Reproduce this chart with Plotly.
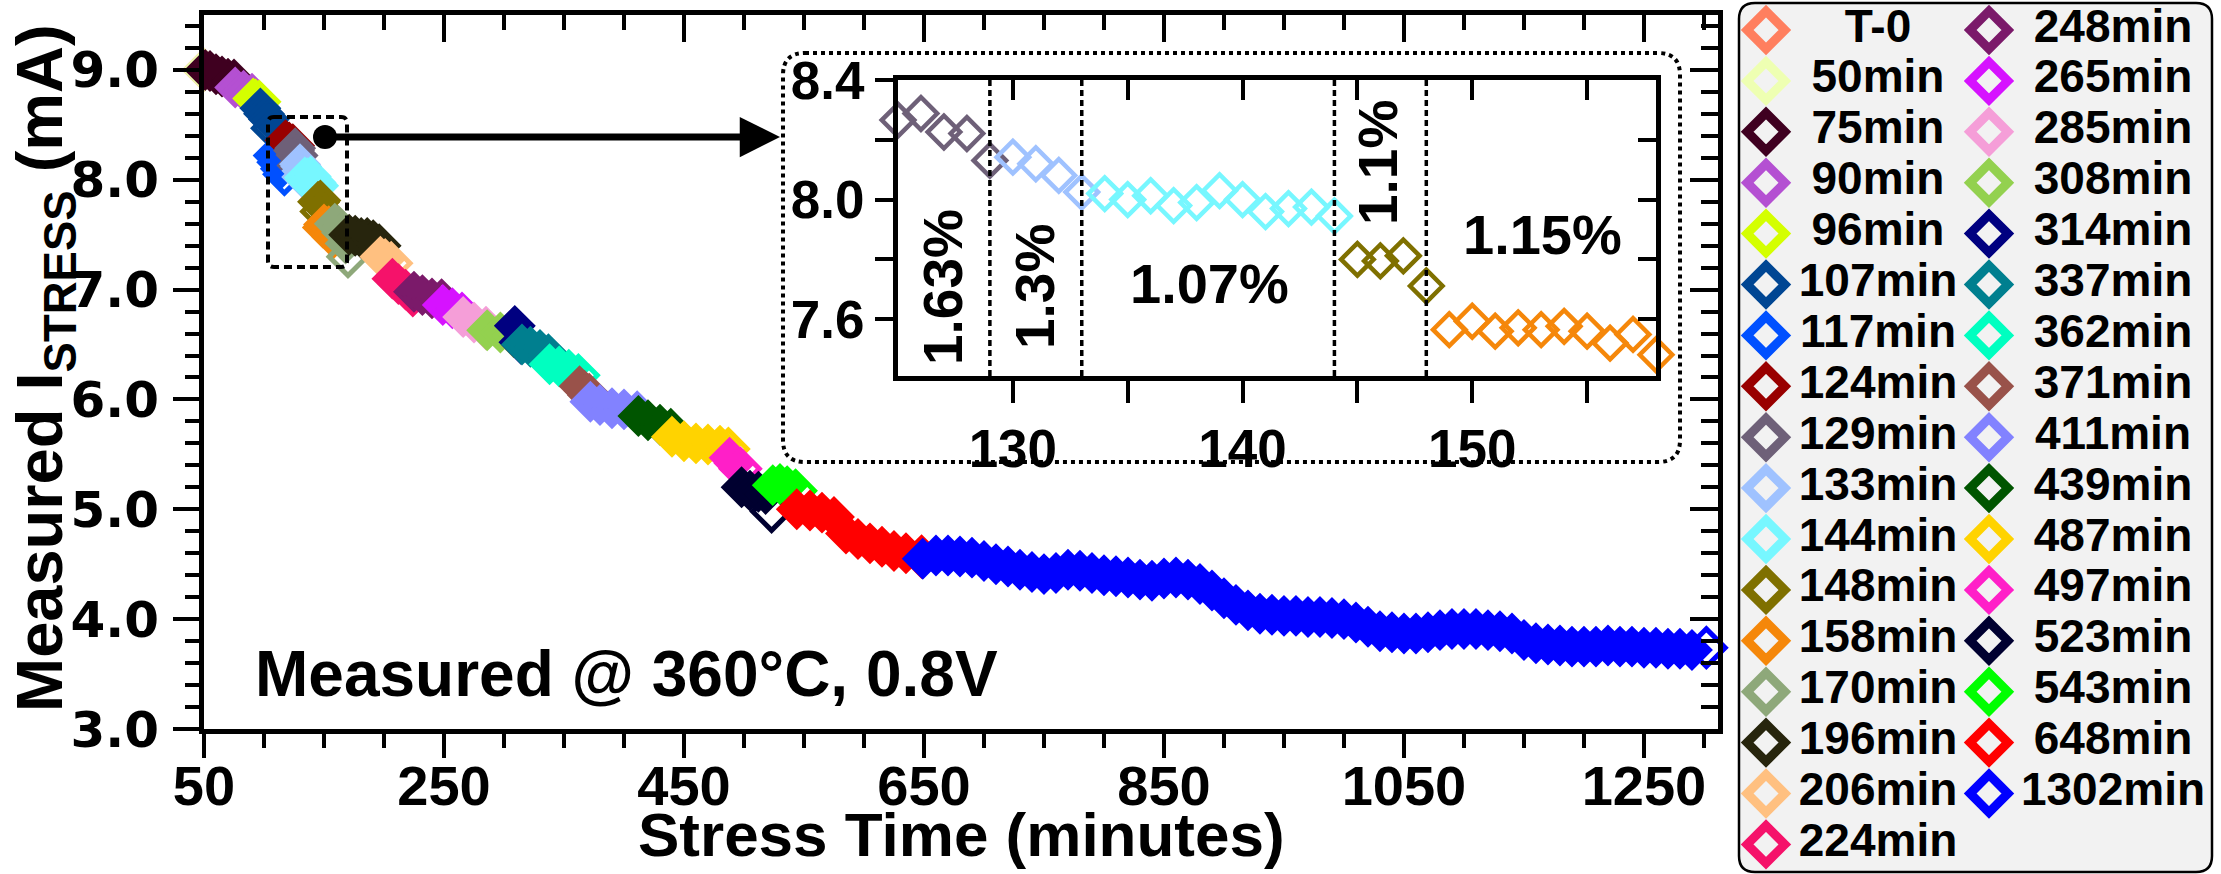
import plotly.graph_objects as go

W, H = 2221, 874
FONT = "Liberation Sans, Arial, sans-serif"
WIDE = "DejaVu Sans, Liberation Sans, sans-serif"

# ---------------- data ----------------
names = ["T-0", "50min", "75min", "90min", "96min", "107min", "117min", "124min",
         "129min", "133min", "144min", "148min", "158min", "170min", "196min",
         "206min", "224min", "248min", "265min", "285min", "308min", "314min",
         "337min", "362min", "371min", "411min", "439min", "487min", "497min",
         "523min", "543min", "648min", "1302min"]
colors = ["#FF7F5F", "#EEFFB2", "#3F0020", "#B450D2", "#D4FF00", "#004693", "#0050FF",
          "#990000", "#6E6078", "#9FC2FF", "#77F7FF", "#7F7000", "#F5870A", "#8EA87A",
          "#27250D", "#FFC080", "#F5126A", "#7B1A6A", "#D612FF", "#F59ED8", "#93D14F",
          "#000080", "#007F8F", "#00FFC0", "#99524A", "#8282FF", "#005500", "#FFD300",
          "#FF1FC8", "#000030", "#00FF00", "#FF0000", "#0000FF"]

t_t0 = [50];                          i_t0 = [9.00]
t_050 = [50];                         i_050 = [9.00]
t_075 = [51, 55, 60, 65, 70, 75];     i_075 = [9.00, 8.99, 8.96, 8.94, 8.92, 8.90]
t_090 = [76, 83, 90];                 i_090 = [8.84, 8.81, 8.77]
t_096 = [91, 93, 96];                 i_096 = [8.74, 8.73, 8.71]
t_107 = [97, 100, 104, 107];          i_107 = [8.65, 8.60, 8.55, 8.47]
t_117 = [108, 111, 114, 117];         i_117 = [8.22, 8.16, 8.10, 8.05]
t_124 = [118, 121, 124];              i_124 = [8.36, 8.34, 8.31]
t_129 = [125, 126, 127, 128, 129];    i_129 = [8.266, 8.288, 8.226, 8.221, 8.131]
t_133 = [130, 131, 132, 133];         i_133 = [8.142, 8.120, 8.081, 8.025]
t_144 = [134, 135, 136, 137, 138, 139, 140, 141, 142, 143, 144]
i_144 = [8.020, 8.000, 8.013, 7.980, 7.990, 8.030, 8.000, 7.960, 7.970, 7.975, 7.945]
t_148 = [145, 146, 147, 148];         i_148 = [7.800, 7.795, 7.812, 7.711]
t_158 = [149, 150, 151, 152, 153, 154, 155, 156, 157, 158]
i_158 = [7.565, 7.593, 7.560, 7.571, 7.565, 7.576, 7.560, 7.520, 7.549, 7.481]
t_170 = [159, 162, 165, 168, 170];    i_170 = [7.60, 7.58, 7.52, 7.42, 7.30]
t_196 = [171, 176, 181, 186, 191, 196]; i_196 = [7.50, 7.49, 7.47, 7.47, 7.45, 7.40]
t_206 = [197, 201, 206];              i_206 = [7.30, 7.28, 7.24]
t_224 = [207, 212, 218, 224];         i_224 = [7.10, 7.05, 7.00, 6.95]
t_248 = [225, 232, 240, 248];         i_248 = [6.98, 6.95, 6.92, 6.90]
t_265 = [249, 257, 265];              i_265 = [6.86, 6.83, 6.78]
t_285 = [266, 275, 285];              i_285 = [6.75, 6.70, 6.65]
t_308 = [286, 297, 308];              i_308 = [6.63, 6.61, 6.58]
t_314 = [309, 314];                   i_314 = [6.67, 6.52]
t_337 = [315, 322, 330, 337];         i_337 = [6.50, 6.48, 6.45, 6.40]
t_362 = [338, 346, 354, 362];         i_362 = [6.32, 6.30, 6.27, 6.22]
t_371 = [363, 367, 371];              i_371 = [6.12, 6.08, 6.04]
t_411 = [372, 380, 390, 400, 411];    i_411 = [5.98, 5.95, 5.92, 5.91, 5.88]
t_439 = [412, 420, 430, 439];         i_439 = [5.85, 5.81, 5.77, 5.72]
t_487 = [440, 450, 460, 470, 480, 487]; i_487 = [5.66, 5.62, 5.60, 5.59, 5.58, 5.55]
t_497 = [488, 492, 497];              i_497 = [5.47, 5.42, 5.37]
t_523 = [498, 505, 512, 518, 523];    i_523 = [5.20, 5.17, 5.16, 5.14, 4.98]
t_543 = [524, 530, 536, 543];         i_543 = [5.22, 5.23, 5.21, 5.17]
t_648 = [544, 555, 565, 575, 585, 595, 605, 615, 625, 635, 648]
i_648 = [5.00, 4.99, 4.97, 4.93, 4.78, 4.73, 4.69, 4.66, 4.62, 4.60, 4.57]
t_1302 = [649, 660, 670, 680, 690, 700, 710, 720, 730, 740,
          750, 760, 770, 780, 790, 800, 810, 820, 830, 840,
          850, 860, 870, 880, 890, 900, 910, 920, 930, 940,
          950, 960, 970, 980, 990, 1000, 1010, 1020, 1030, 1040,
          1050, 1060, 1070, 1080, 1090, 1100, 1110, 1120, 1130, 1140,
          1150, 1160, 1170, 1180, 1190, 1200, 1210, 1220, 1230, 1240,
          1250, 1260, 1270, 1280, 1290, 1302]
i_1302 = [4.55, 4.58, 4.58, 4.57, 4.56, 4.53, 4.50, 4.48, 4.45, 4.43,
          4.41, 4.42, 4.45, 4.44, 4.42, 4.40, 4.39, 4.38, 4.36, 4.35,
          4.37, 4.38, 4.36, 4.32, 4.26, 4.19, 4.13, 4.08, 4.05, 4.04,
          4.03, 4.03, 4.02, 4.02, 4.01, 4.00, 3.97, 3.93, 3.89, 3.88,
          3.87, 3.87, 3.88, 3.90, 3.91, 3.91, 3.91, 3.90, 3.89, 3.87,
          3.81, 3.78, 3.77, 3.76, 3.75, 3.75, 3.75, 3.76, 3.75, 3.75,
          3.74, 3.74, 3.73, 3.73, 3.72, 3.74]

series_t = [t_t0, t_050, t_075, t_090, t_096, t_107, t_117, t_124, t_129, t_133, t_144,
            t_148, t_158, t_170, t_196, t_206, t_224, t_248, t_265, t_285, t_308, t_314,
            t_337, t_362, t_371, t_411, t_439, t_487, t_497, t_523, t_543, t_648, t_1302]
series_i = [i_t0, i_050, i_075, i_090, i_096, i_107, i_117, i_124, i_129, i_133, i_144,
            i_148, i_158, i_170, i_196, i_206, i_224, i_248, i_265, i_285, i_308, i_314,
            i_337, i_362, i_371, i_411, i_439, i_487, i_497, i_523, i_543, i_648, i_1302]

inset_names = ["129min", "133min", "144min", "148min", "158min"]
inset_boundaries = ["129min", "133min", "144min", "148min"]
pct_labels = ["1.63%", "1.3%", "1.07%", "1.1%", "1.15%"]

# ---------------- helpers (pixel -> paper) ----------------
def px(x):
    return x / W

def py(y):
    return 1 - y / H

def rrect(x0, y0, x1, y1, r):
    X0, X1, Y0, Y1 = px(x0), px(x1), py(y0), py(y1)
    rx, ry = r / W, r / H
    return (f"M{X0+rx},{Y0} L{X1-rx},{Y0} Q{X1},{Y0} {X1},{Y0-ry} "
            f"L{X1},{Y1+ry} Q{X1},{Y1} {X1-rx},{Y1} L{X0+rx},{Y1} "
            f"Q{X0},{Y1} {X0},{Y1+ry} L{X0},{Y0-ry} Q{X0},{Y0} {X0+rx},{Y0} Z")

fig = go.Figure()

# ---------------- main traces ----------------
for name, col, tt, ii in zip(names, colors, series_t, series_i):
    n = len(tt)
    fig.add_trace(go.Scatter(
        x=tt, y=ii, mode="markers", name=name, showlegend=False, hoverinfo="skip",
        cliponaxis=False, xaxis="x", yaxis="y",
        marker=dict(symbol=["diamond"] * (n - 1) + ["diamond-open"], size=29, color=col,
                    line=dict(color=col, width=[3] * (n - 1) + [5]))))

fig.add_trace(go.Scatter(x=[None], y=[None], xaxis="x2", yaxis="y2", showlegend=False))

# ---------------- inset traces ----------------
for name in inset_names:
    k = names.index(name)
    fig.add_trace(go.Scatter(
        x=series_t[k], y=series_i[k], mode="markers", showlegend=False, hoverinfo="skip",
        cliponaxis=False, xaxis="x3", yaxis="y3",
        marker=dict(symbol="diamond-open", size=25, color=colors[k],
                    line=dict(color=colors[k], width=4.5))))
fig.add_trace(go.Scatter(x=[None], y=[None], xaxis="x4", yaxis="y4", showlegend=False))

# ---------------- custom legend (pixel axes x5/y5) ----------------
n_left = 17
leg_mx, leg_my, leg_tx = [], [], []
for k, name in enumerate(names):
    col = 0 if k < n_left else 1
    row = k if k < n_left else k - n_left
    leg_my.append(30 + 50.9 * row)
    leg_mx.append(1766 if col == 0 else 1989)
    leg_tx.append(1878 if col == 0 else 2113)
fig.add_trace(go.Scatter(
    x=leg_mx, y=leg_my, mode="markers", xaxis="x5", yaxis="y5", showlegend=False,
    hoverinfo="skip", cliponaxis=False,
    marker=dict(symbol="diamond-open", size=29, color=colors, line=dict(color=colors, width=9))))
fig.add_trace(go.Scatter(
    x=leg_tx, y=leg_my, mode="text", text=names, xaxis="x5", yaxis="y5", showlegend=False,
    hoverinfo="skip", cliponaxis=False, textposition="middle center",
    textfont=dict(family=FONT, size=46, color="black", weight="bold")))

# ---------------- axes ----------------
tick_font_x = dict(family=FONT, size=56, color="black", weight="bold")
tick_font_y = dict(family=WIDE, size=50, color="black", weight="bold")
main_xd = [px(204), px(1718)]
main_yd = [py(729), py(15)]
xr = [50, 1311.7]
yr = [3.0, 9.5]

common = dict(showgrid=False, zeroline=False, showline=True, linecolor="black",
              tickcolor="black", automargin=False)

fig.update_layout(
    width=W, height=H, margin=dict(l=0, r=0, t=0, b=0, pad=0, autoexpand=False),
    paper_bgcolor="white", plot_bgcolor="rgba(0,0,0,0)", showlegend=False,
    xaxis=dict(domain=main_xd, range=xr, anchor="y", tick0=50, dtick=200,
               ticks="outside", ticklen=24, tickwidth=4, linewidth=5, tickfont=tick_font_x,
               ticklabelstandoff=-20,
               minor=dict(tick0=50, dtick=50, ticks="outside", ticklen=14, tickwidth=4,
                          tickcolor="black", showgrid=False), **common),
    yaxis=dict(domain=main_yd, range=yr, anchor="x", tick0=3, dtick=1, tickformat=".1f",
               ticks="outside", ticklen=26, tickwidth=4, linewidth=5, tickfont=tick_font_y,
               ticklabelstandoff=4,
               minor=dict(tick0=3, dtick=0.2, ticks="outside", ticklen=14, tickwidth=4,
                          tickcolor="black", showgrid=False), **common),
    xaxis2=dict(overlaying="x", anchor="y2", side="top", range=xr, tick0=50, dtick=200,
                ticks="inside", ticklen=27, tickwidth=4, linewidth=5, showticklabels=False,
                minor=dict(tick0=50, dtick=50, ticks="inside", ticklen=15, tickwidth=4,
                           tickcolor="black", showgrid=False), **common),
    yaxis2=dict(overlaying="y", anchor="x2", side="right", range=yr, tick0=3, dtick=1,
                ticks="inside", ticklen=28, tickwidth=4, linewidth=5, showticklabels=False,
                minor=dict(tick0=3, dtick=0.2, ticks="inside", ticklen=17, tickwidth=4,
                           tickcolor="black", showgrid=False), **common),
    xaxis3=dict(domain=[px(898), px(1656)], anchor="y3", range=[125, 158],
                tickvals=[130, 135, 140, 145, 150, 155], ticktext=["130", "", "140", "", "150", ""],
                ticks="outside", ticklen=22, tickwidth=4, linewidth=5,
                tickfont=dict(family=FONT, size=53, color="black", weight="bold"), **common),
    yaxis3=dict(domain=[py(376), py(80)], anchor="x3", range=[7.41, 8.4],
                tickvals=[7.6, 7.8, 8.0, 8.2, 8.4], ticktext=["7.6", "", "8.0", "", "8.4"],
                ticks="outside", ticklen=18, tickwidth=4, linewidth=5,
                tickfont=dict(family=FONT, size=53, color="black", weight="bold"), **common),
    xaxis4=dict(overlaying="x3", anchor="y4", side="top", range=[125, 158],
                tickvals=[130, 135, 140, 145, 150, 155], ticks="inside", ticklen=20,
                tickwidth=4, linewidth=5, showticklabels=False, **common),
    yaxis4=dict(overlaying="y3", anchor="x4", side="right", range=[7.41, 8.4],
                tickvals=[7.6, 7.8, 8.0, 8.2, 8.4], ticks="inside", ticklen=18,
                tickwidth=4, linewidth=5, showticklabels=False, **common),
    xaxis5=dict(domain=[0, 1], range=[0, W], anchor="y5", visible=False, automargin=False),
    yaxis5=dict(domain=[0, 1], range=[H, 0], anchor="x5", visible=False, automargin=False),
)

# ---------------- shapes ----------------
shapes = []
shapes.append(dict(type="path", xref="paper", yref="paper", path=rrect(1739, 3, 2212, 872, 16),
                   fillcolor="#F2F2F2", line=dict(color="black", width=2.5), layer="below"))
shapes.append(dict(type="path", xref="paper", yref="paper", path=rrect(268, 117, 347, 267, 6),
                   line=dict(color="black", width=4, dash="8px,5px"), layer="above"))
shapes.append(dict(type="path", xref="paper", yref="paper", path=rrect(783, 53, 1680, 462, 22),
                   line=dict(color="black", width=4, dash="dot"), layer="above"))
shapes.append(dict(type="circle", xref="paper", yref="paper",
                   x0=px(313), x1=px(337), y0=py(149), y1=py(125),
                   fillcolor="black", line=dict(color="black", width=0), layer="above"))
for nm in inset_boundaries:
    xv = series_t[names.index(nm)][-1]
    shapes.append(dict(type="line", xref="x3", yref="y3", x0=xv, x1=xv, y0=7.41, y1=8.4,
                       line=dict(color="black", width=3.5, dash="6px,4px"), layer="above"))
fig.update_layout(shapes=shapes)

# ---------------- annotations ----------------
ann = []
def text_ann(txt, x, y, size, angle=0, family=FONT):
    return dict(text=txt, x=px(x), y=py(y), xref="paper", yref="paper", showarrow=False,
                xanchor="center", yanchor="middle", textangle=angle,
                font=dict(family=family, size=size, color="black", weight="bold"))

ann.append(text_ann("Measured @ 360°C, 0.8V", 626, 674, 64))
ann.append(text_ann("Stress Time (minutes)", 961, 834, 62))
ann.append(text_ann("Measured I<sub>STRESS</sub> (mA)", 44, 368, 65, -90))
ann.append(text_ann(pct_labels[0], 943, 287, 55, -90))
ann.append(text_ann(pct_labels[1], 1035, 287, 55, -90))
ann.append(text_ann(pct_labels[2], 1209, 283, 56))
ann.append(text_ann(pct_labels[3], 1378, 163, 55, -90))
ann.append(text_ann(pct_labels[4], 1542, 234, 56))
ann.append(dict(text="", x=px(780), y=py(137), xref="paper", yref="paper",
                ax=-(780 - 325), ay=0, showarrow=True, arrowhead=2, arrowsize=1.15,
                arrowwidth=7, arrowcolor="black", standoff=0))
fig.update_layout(annotations=ann)

fig.write_html("out.html")
